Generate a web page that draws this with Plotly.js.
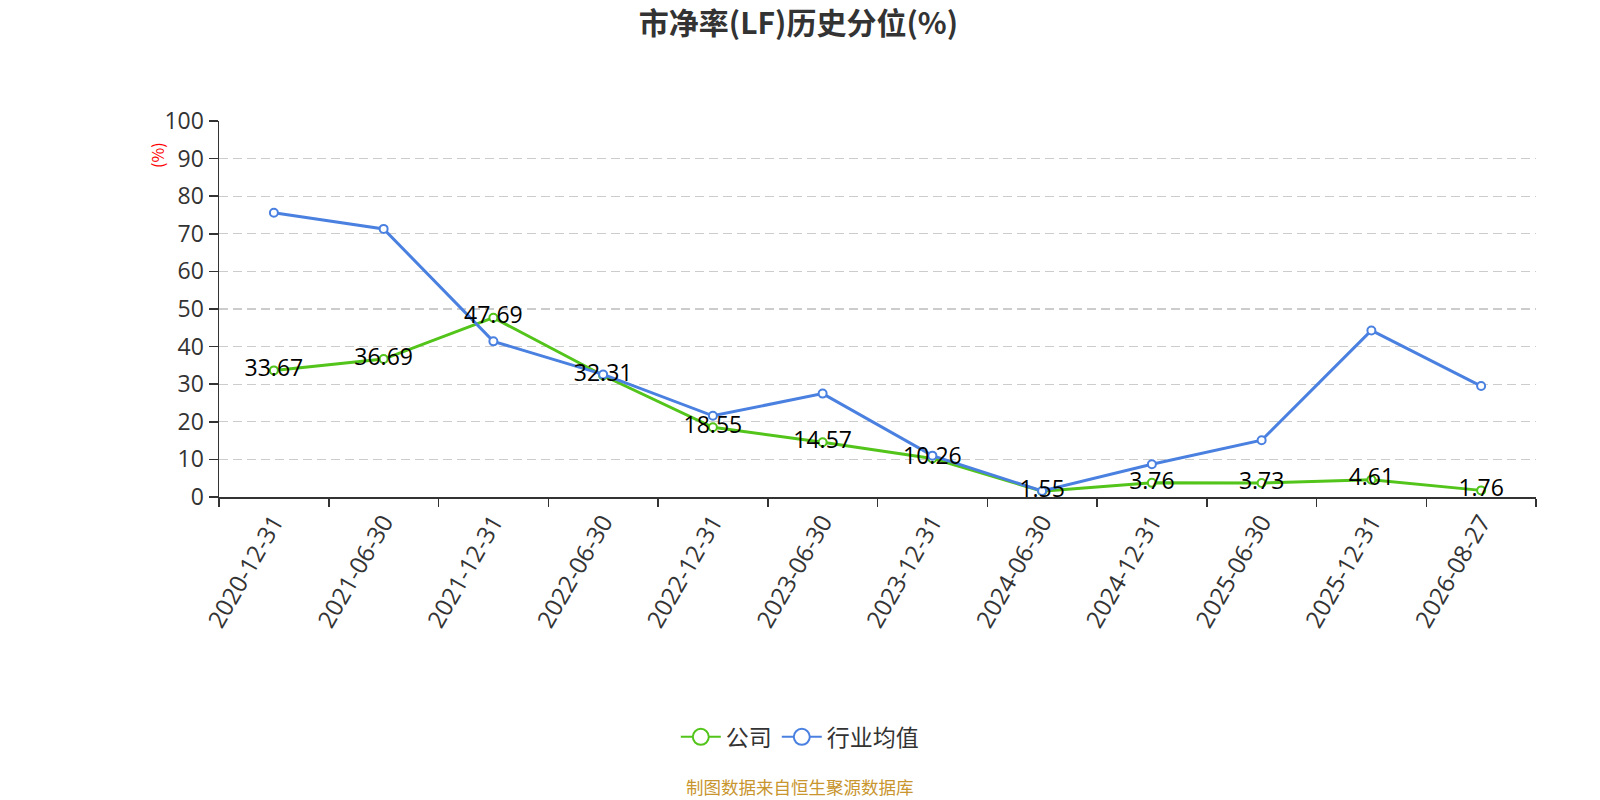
<!DOCTYPE html>
<html>
<head>
<meta charset="utf-8">
<script src="https://cdn.plot.ly/plotly-3.0.1.min.js"></script>
<style>
  html, body { margin: 0; padding: 0; background: #fff; }
  #chart { width: 1600px; height: 800px; }
</style>
</head>
<body>
<div id="chart"></div>
<script>
// dates on the x axis
var dates = ['2020-12-31', '2021-06-30', '2021-12-31', '2022-06-30', '2022-12-31', '2023-06-30',
             '2023-12-31', '2024-06-30', '2024-12-31', '2025-06-30', '2025-12-31', '2026-08-27'];
// company percentile
var company = [33.67, 36.69, 47.69, 32.31, 18.55, 14.57, 10.26, 1.55, 3.76, 3.73, 4.61, 1.76];
// industry average percentile
var industry = [75.6, 71.3, 41.4, 32.6, 21.6, 27.5, 11.0, 1.6, 8.7, 15.1, 44.3, 29.5];

var green = '#52c41a';
var blue = '#4a80e0';
var cjk = '"Noto Sans CJK SC", "Noto Sans", sans-serif';
var nums = '"Open Sans", "Noto Sans CJK SC", sans-serif';

var data = [
  {
    type: 'scatter', mode: 'lines+markers', name: '公司', showlegend: false,
    x: dates, y: company,
    line: { color: green, width: 3 },
    marker: { symbol: 'circle', size: 8, color: '#fff', line: { color: green, width: 2 } },
    hoverinfo: 'x+y'
  },
  {
    type: 'scatter', mode: 'lines+markers', name: '行业均值', showlegend: false,
    x: dates, y: industry,
    line: { color: blue, width: 3 },
    marker: { symbol: 'circle', size: 8, color: '#fff', line: { color: blue, width: 2 } },
    hoverinfo: 'x+y'
  },
  {
    // value labels of the company line, on top of everything
    type: 'scatter', mode: 'text', showlegend: false,
    x: dates, y: company,
    text: company.map(function (v) { return v.toFixed(2); }),
    textposition: 'middle center',
    textfont: { family: nums, size: 23, color: '#000' },
    hoverinfo: 'skip'
  },
  // legend entries only (bigger symbols than the plotted markers)
  {
    type: 'scatter', mode: 'lines+markers', name: '公司',
    x: [null], y: [null],
    line: { color: green, width: 2 },
    marker: { symbol: 'circle', size: 16, color: '#fff', line: { color: green, width: 2 } }
  },
  {
    type: 'scatter', mode: 'lines+markers', name: '行业均值',
    x: [null], y: [null],
    line: { color: blue, width: 2 },
    marker: { symbol: 'circle', size: 16, color: '#fff', line: { color: blue, width: 2 } }
  }
];

var layout = {
  width: 1600,
  height: 800,
  margin: { l: 219, r: 64, t: 121, b: 303 },
  paper_bgcolor: '#fff',
  plot_bgcolor: '#fff',
  font: { family: cjk, color: '#333' },
  title: {
    text: '<b>市净率(LF)历史分位(%)</b>',
    font: { family: cjk, size: 30, color: '#333' },
    x: 0.499, xanchor: 'center', y: 0.971, yanchor: 'middle'
  },
  xaxis: {
    type: 'category',
    range: [-0.5, 11.5],
    tickson: 'boundaries',
    ticks: 'outside', ticklen: 8, tickcolor: '#333', tickwidth: 1.5,
    showline: true, linecolor: '#333', linewidth: 1.5,
    showgrid: false, zeroline: false,
    tickangle: -60,
    tickfont: { family: nums, size: 24, color: '#333' }
  },
  yaxis: {
    range: [0, 100],
    dtick: 10,
    ticks: 'outside', ticklen: 9, tickcolor: '#333', tickwidth: 1.5,
    showline: true, linecolor: '#333', linewidth: 1.5,
    showgrid: true, gridcolor: '#cccccc', griddash: '9px,5px', gridwidth: 1.2,
    zeroline: false,
    tickfont: { family: nums, size: 23, color: '#333' }
  },
  showlegend: true,
  legend: {
    orientation: 'h',
    x: 0.441, xanchor: 'center',
    y: -0.638, yanchor: 'middle',
    font: { family: cjk, size: 23, color: '#333' },
    itemwidth: 40
  },
  annotations: [
    {
      text: '(%)', textangle: -90,
      xref: 'paper', yref: 'paper',
      x: -0.047, y: 0.91, xanchor: 'center', yanchor: 'middle',
      showarrow: false,
      font: { family: cjk, size: 16, color: '#f00' }
    },
    {
      text: '制图数据来自恒生聚源数据库',
      xref: 'paper', yref: 'paper',
      x: 0.441, y: -0.771, xanchor: 'center', yanchor: 'middle',
      showarrow: false, borderpad: 0,
      font: { family: cjk, size: 17.5, color: '#c8952e' }
    }
  ]
};

Plotly.newPlot('chart', data, layout, { displayModeBar: false, staticPlot: true });
</script>
</body>
</html>
